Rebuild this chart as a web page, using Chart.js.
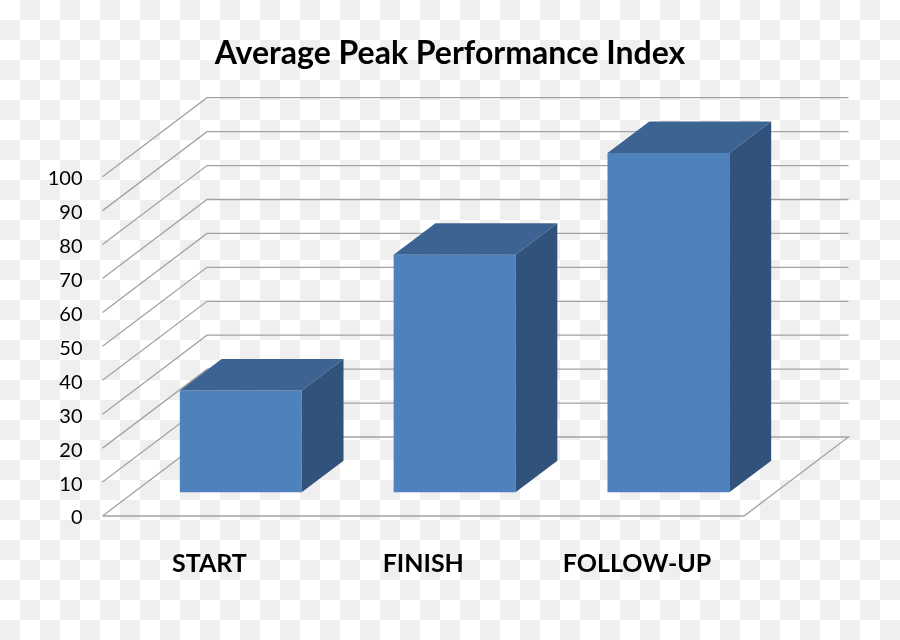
<!DOCTYPE html>
<html>
<head>
<meta charset="utf-8">
<script src="https://cdn.jsdelivr.net/npm/chart.js@4"></script>
<style>
html,body{margin:0;padding:0;width:900px;height:640px;overflow:hidden;
background:repeating-conic-gradient(#efefef 0 25%,#fff 0 50%) 0 0/40px 40px;}
#wrap{position:absolute;left:0;top:0;width:900px;height:640px;}
</style>
</head>
<body>
<div id="wrap"><canvas id="c" width="900" height="640"></canvas></div>
<script>
const categories = ['START', 'FINISH', 'FOLLOW-UP'];
const peakIndex = [30, 70, 100];
const chartTitle = 'Average Peak Performance Index';

const FLOOR_DX = 104.5, FLOOR_DY = -79;
const BAR_FRONT = 0.3, BAR_DEPTH = 0.4;
const GRID = '#a3a3a3';

const box3d = {
  id: 'box3d',
  beforeDatasetsDraw(chart) {
    const {ctx, chartArea: a, scales: {y}} = chart;
    ctx.save();
    ctx.strokeStyle = GRID;
    ctx.lineWidth = 1.3;
    y.ticks.forEach(t => {
      const py = y.getPixelForValue(t.value);
      ctx.beginPath();
      ctx.moveTo(a.left, py);
      ctx.lineTo(a.left + FLOOR_DX, py + FLOOR_DY);
      ctx.lineTo(a.right + FLOOR_DX, py + FLOOR_DY);
      if (t.value === 0) {
        ctx.lineTo(a.right, py);
        ctx.lineTo(a.left, py);
      }
      ctx.stroke();
    });
    ctx.restore();
    ctx.save();
    ctx.translate(FLOOR_DX * BAR_FRONT, FLOOR_DY * BAR_FRONT);
  },
  afterDatasetsDraw(chart) {
    const {ctx} = chart;
    const dx = FLOOR_DX * BAR_DEPTH, dy = FLOOR_DY * BAR_DEPTH;
    chart.getDatasetMeta(0).data.forEach(b => {
      const l = b.x - b.width / 2, r = b.x + b.width / 2, t = b.y, bt = b.base;
      ctx.fillStyle = '#3c6391';
      ctx.beginPath();
      ctx.moveTo(l, t);
      ctx.lineTo(l + dx, t + dy);
      ctx.lineTo(r + dx, t + dy);
      ctx.lineTo(r, t);
      ctx.closePath();
      ctx.fill();
      ctx.fillStyle = '#31527a';
      ctx.beginPath();
      ctx.moveTo(r, t);
      ctx.lineTo(r + dx, t + dy);
      ctx.lineTo(r + dx, bt + dy);
      ctx.lineTo(r, bt);
      ctx.closePath();
      ctx.fill();
    });
    ctx.restore();
  }
};

new Chart(document.getElementById('c'), {
  type: 'bar',
  data: {
    labels: categories,
    datasets: [{
      data: peakIndex,
      backgroundColor: '#4f81bd',
      borderWidth: 0,
      barPercentage: 0.57,
      categoryPercentage: 1,
      clip: false
    }]
  },
  options: {
    responsive: false,
    animation: false,
    layout: {padding: 0},
    plugins: {
      legend: {display: false},
      tooltip: {enabled: false},
      title: {
        display: true,
        text: chartTitle,
        color: '#000',
        font: {family: 'Lato', size: 32, weight: 'bold', lineHeight: 1.2},
        padding: {top: 34, bottom: 104.3}
      }
    },
    scales: {
      x: {
        grid: {display: false},
        border: {display: false},
        afterFit(s) { s.height = 124; },
        ticks: {
          color: '#000',
          padding: 25,
          maxRotation: 0,
          font: {family: 'Lato', size: 25, weight: 'bold'}
        }
      },
      y: {
        min: 0,
        max: 100,
        grid: {display: false, drawTicks: false},
        border: {display: false},
        afterFit(s) { s.width = 102.5; },
        ticks: {
          stepSize: 10,
          color: '#000',
          padding: 20,
          labelOffset: 2,
          font: {family: 'Lato', size: 20}
        }
      },
      rightSpace: {
        position: 'right',
        grid: {display: false},
        border: {display: false},
        ticks: {display: false},
        afterFit(s) { s.width = 156; }
      }
    }
  },
  plugins: [box3d]
});
</script>
</body>
</html>
